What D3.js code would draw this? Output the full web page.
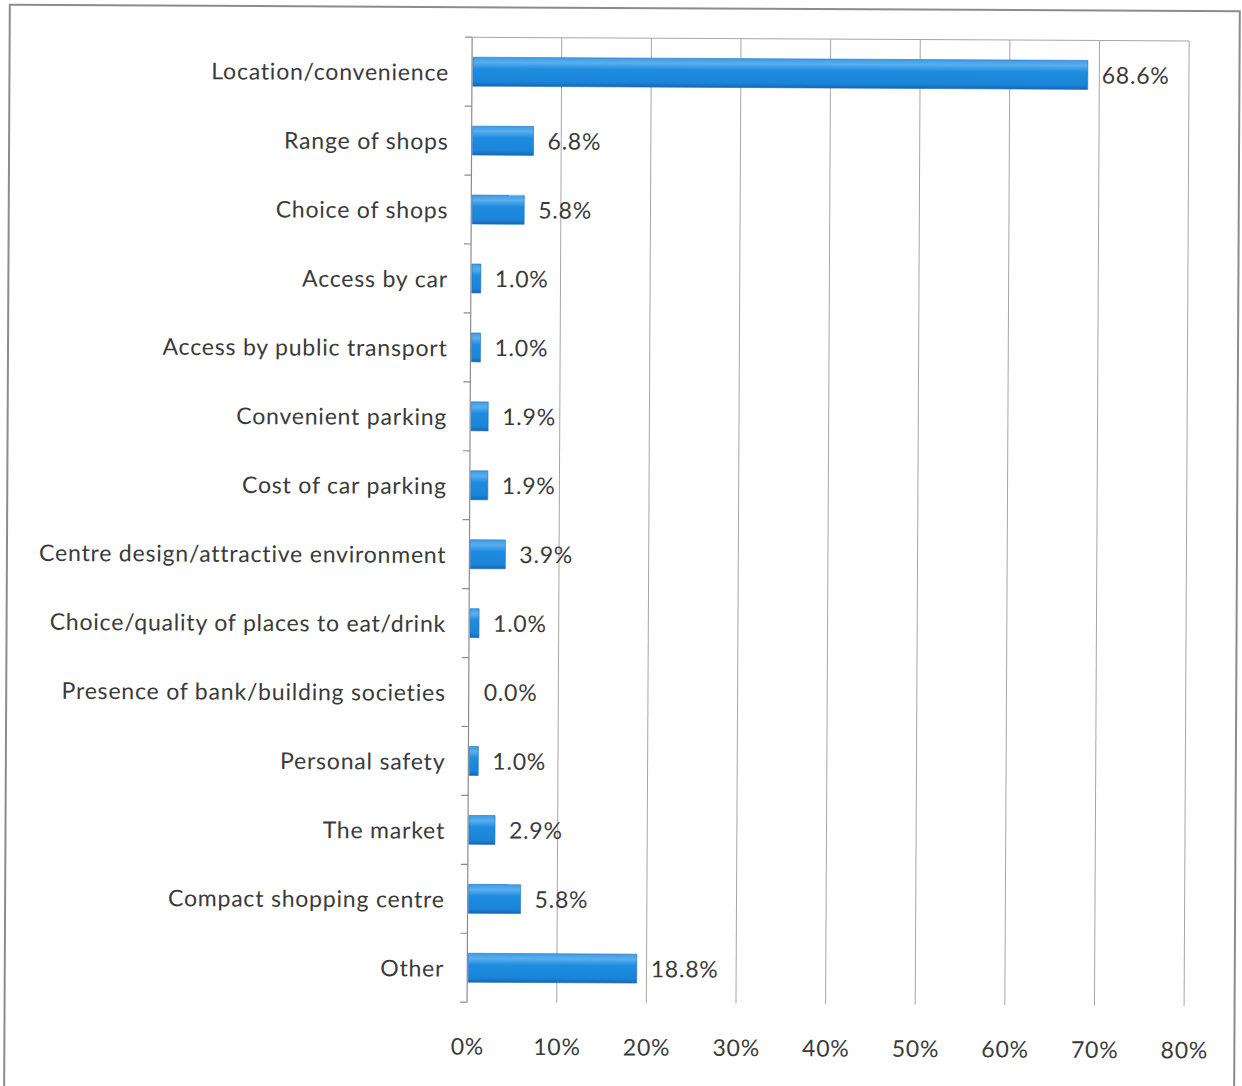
<!DOCTYPE html>
<html>
<head>
<meta charset="utf-8">
<script src="https://cdn.jsdelivr.net/npm/d3@7"></script>
<style>
  html, body { margin: 0; padding: 0; background: #fff; }
  svg { display: block; }
  text { font-family: Lato, "Open Sans", sans-serif; fill: #3a3a3a; letter-spacing: 0.8px; }
</style>
</head>
<body>
<svg id="chart" width="1242" height="1086"></svg>
<script>
// Reasons for visiting the centre (share of respondents)
const categories = [
  "Location/convenience",
  "Range of shops",
  "Choice of shops",
  "Access by car",
  "Access by public transport",
  "Convenient parking",
  "Cost of car parking",
  "Centre design/attractive environment",
  "Choice/quality of places to eat/drink",
  "Presence of bank/building societies",
  "Personal safety",
  "The market",
  "Compact shopping centre",
  "Other"
];
const values = [68.6, 6.8, 5.8, 1.0, 1.0, 1.9, 1.9, 3.9, 1.0, 0.0, 1.0, 2.9, 5.8, 18.8];
const xTicks = [0, 10, 20, 30, 40, 50, 60, 70, 80];

const W = 1242, H = 1086;
const plot = { left: 469.5, right: 1186.5, top: 38, bottom: 1003 };

const svg = d3.select("#chart");

const defs = svg.append("defs");
const grad = defs.append("linearGradient")
  .attr("id", "barFill").attr("x1", 0).attr("y1", 0).attr("x2", 0).attr("y2", 1);
grad.append("stop").attr("offset", "0%").attr("stop-color", "#3c9ce6");
grad.append("stop").attr("offset", "18%").attr("stop-color", "#5aaeee");
grad.append("stop").attr("offset", "40%").attr("stop-color", "#1f8ce0");
grad.append("stop").attr("offset", "85%").attr("stop-color", "#1a84d8");
grad.append("stop").attr("offset", "100%").attr("stop-color", "#1666b4");

// Slight tilt of the whole sheet
const root = svg.append("g").attr("transform", `rotate(0.3, ${W / 2}, ${H / 2})`);

// Outer frame
root.append("rect")
  .attr("x", 7).attr("y", 8).attr("width", 1230).attr("height", 1100)
  .attr("fill", "none").attr("stroke", "#8c8c8c").attr("stroke-width", 2);

const x = d3.scaleLinear().domain([0, 80]).range([plot.left, plot.right]);
const y = d3.scaleBand().domain(categories).range([plot.top, plot.bottom])
  .paddingInner(0.58).paddingOuter(0.29);

// Vertical gridlines
root.append("g").selectAll("line")
  .data(xTicks.slice(1))
  .join("line")
  .attr("x1", d => x(d)).attr("x2", d => x(d))
  .attr("y1", plot.top).attr("y2", plot.bottom)
  .attr("stroke", "#a6a6a6").attr("stroke-width", 1);

// Top edge of plot area
root.append("line")
  .attr("x1", plot.left).attr("x2", plot.right)
  .attr("y1", plot.top).attr("y2", plot.top)
  .attr("stroke", "#a6a6a6").attr("stroke-width", 1);

// Value axis labels
const xAxis = d3.axisBottom(x).tickValues(xTicks).tickSize(0).tickPadding(0)
  .tickFormat(d => d + "%");
const gx = root.append("g").attr("transform", `translate(0, ${plot.bottom + 45})`).call(xAxis);
gx.select(".domain").remove();
gx.selectAll("text")
  .attr("dy", "0.32em")
  .style("font-size", "23px")
  .style("font-family", "Lato, 'Open Sans', sans-serif")
  .attr("fill", "#3a3a3a");

// Category axis with outward ticks at band boundaries
const boundaries = d3.range(categories.length + 1).map(i => plot.top + i * (plot.bottom - plot.top) / categories.length);
root.append("line")
  .attr("x1", plot.left).attr("x2", plot.left)
  .attr("y1", plot.top).attr("y2", plot.bottom)
  .attr("stroke", "#8c8c8c").attr("stroke-width", 1.2);
root.append("g").selectAll("line")
  .data(boundaries)
  .join("line")
  .attr("x1", plot.left - 7).attr("x2", plot.left)
  .attr("y1", d => d).attr("y2", d => d)
  .attr("stroke", "#8c8c8c").attr("stroke-width", 1.2);

// Category labels
root.append("g").selectAll("text")
  .data(categories)
  .join("text")
  .attr("x", plot.left - 23)
  .attr("y", d => y(d) + y.bandwidth() / 2)
  .attr("dy", "0.39em")
  .attr("text-anchor", "end")
  .style("font-size", "23px")
  .text(d => d);

// Bars
root.append("g").selectAll("rect")
  .data(categories.map((c, i) => ({ c, v: values[i] })))
  .join("rect")
  .attr("x", x(0) + 1)
  .attr("y", d => y(d.c))
  .attr("width", d => Math.max(0, x(d.v) - x(0)))
  .attr("height", y.bandwidth())
  .attr("fill", "url(#barFill)")
  .attr("stroke", "#1a6fbf").attr("stroke-width", 0.6)
  .attr("display", d => d.v > 0 ? null : "none");

// Value labels
root.append("g").selectAll("text")
  .data(categories.map((c, i) => ({ c, v: values[i] })))
  .join("text")
  .attr("x", d => x(d.v) + 15)
  .attr("y", d => y(d.c) + y.bandwidth() / 2)
  .attr("dy", "0.37em")
  .style("font-size", "23px")
  .text(d => d.v.toFixed(1) + "%");
</script>
</body>
</html>
